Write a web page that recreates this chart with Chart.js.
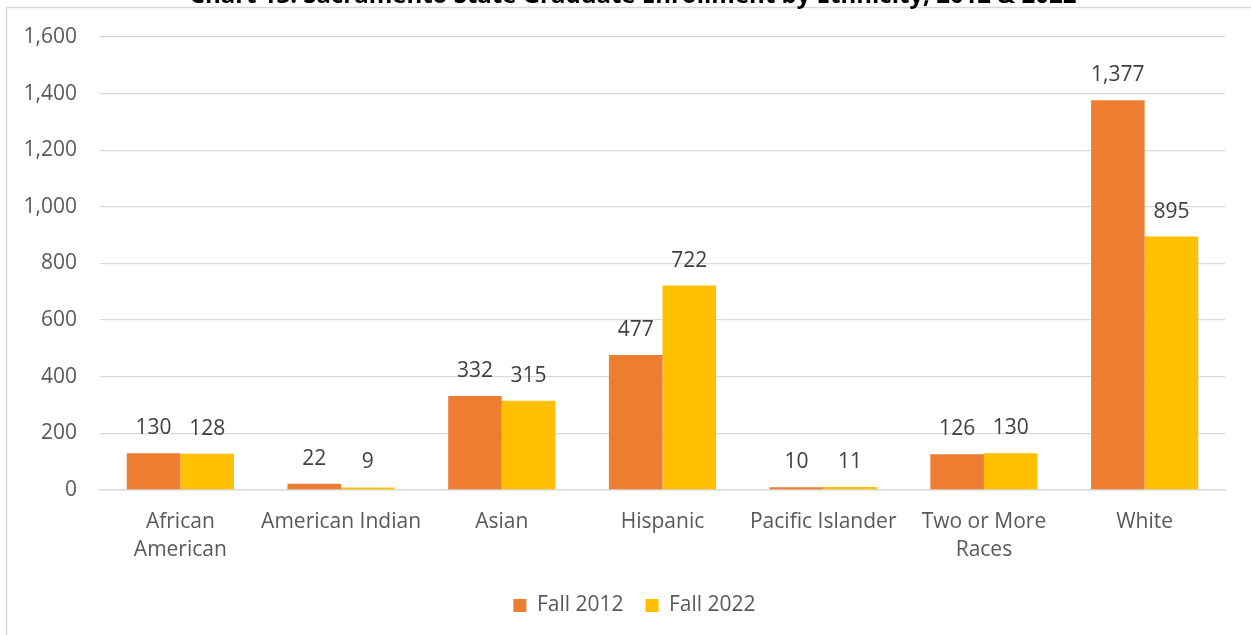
<!DOCTYPE html>
<html>
<head>
<meta charset="utf-8">
<script src="https://cdn.jsdelivr.net/npm/chart.js@4.4.1/dist/chart.umd.min.js"></script>
<style>
  html, body { margin: 0; padding: 0; background: #fff; }
  #wrap { position: absolute; left: 0; top: 0; width: 1251px; height: 635px; }
</style>
</head>
<body>
<div id="wrap"><canvas id="c" width="1251" height="635"></canvas></div>
<script>
const titleText = "Chart 13: Sacramento State Graduate Enrollment by Ethnicity, 2012 & 2022";
const categories = [["African", "American"], "American Indian", "Asian", "Hispanic", "Pacific Islander", ["Two or More", "Races"], "White"];
const seriesNames = ["Fall 2012", "Fall 2022"];
const fall2012 = [130, 22, 332, 477, 10, 126, 1377];
const fall2022 = [128, 9, 315, 722, 11, 130, 895];
const yTicks = [0, 200, 400, 600, 800, 1000, 1200, 1400, 1600];

const FONT = "'Open Sans', 'Noto Sans', sans-serif";
const FS = 21;
const fmt = v => v.toLocaleString('en-US');

const framePlugin = {
  id: 'frame',
  afterLayout(chart) {
    if (chart.legend) { chart.legend.left += 22; chart.legend.right += 22; }
  },
  beforeDraw(chart) {
    const ctx = chart.ctx;
    ctx.save();
    ctx.fillStyle = '#fff';
    ctx.fillRect(0, 0, chart.width, chart.height);
    ctx.strokeStyle = '#D9D9D9';
    ctx.lineWidth = 1.5;
    ctx.beginPath();
    ctx.moveTo(6.5, chart.height + 5);
    ctx.lineTo(6.5, 7.5);
    ctx.lineTo(chart.width + 5, 7.5);
    ctx.stroke();
    ctx.fillStyle = '#000';
    ctx.font = "bold 24px " + FONT;
    ctx.textAlign = 'center';
    ctx.textBaseline = 'alphabetic';
    ctx.fillText(titleText, 633, 3);
    ctx.restore();
  }
};

const labelPlugin = {
  id: 'valueLabels',
  afterDatasetsDraw(chart) {
    const ctx = chart.ctx;
    ctx.save();
    ctx.fillStyle = '#404040';
    ctx.font = FS + "px " + FONT;
    ctx.textAlign = 'center';
    ctx.textBaseline = 'middle';
    chart.data.datasets.forEach((ds, i) => {
      const meta = chart.getDatasetMeta(i);
      meta.data.forEach((bar, j) => {
        ctx.fillText(fmt(ds.data[j]), bar.x, bar.y - 25);
      });
    });
    ctx.restore();
  }
};

new Chart(document.getElementById('c'), {
  type: 'bar',
  data: {
    labels: categories,
    datasets: [
      { label: seriesNames[0], data: fall2012, backgroundColor: '#ED7D31', categoryPercentage: 0.667, barPercentage: 1.0 },
      { label: seriesNames[1], data: fall2022, backgroundColor: '#FFC000', categoryPercentage: 0.667, barPercentage: 1.0 }
    ]
  },
  options: {
    responsive: false,
    animation: false,
    layout: { padding: { top: 37, left: 0, right: 26, bottom: 9 } },
    plugins: {
      legend: {
        position: 'bottom',
        labels: {
          boxWidth: 13, boxHeight: 13, padding: 22,
          color: '#595959',
          font: { family: FONT, size: FS }
        }
      },
      tooltip: { enabled: false },
      title: { display: false }
    },
    scales: {
      x: {
        grid: { display: false, drawTicks: false },
        border: { color: '#D9D9D9', width: 1.5 },
        ticks: {
          color: '#595959', padding: 18, maxRotation: 0, autoSkip: false,
          font: { family: FONT, size: FS, lineHeight: 28 / FS }
        },
        afterFit(scale) { scale.height = 83; }
      },
      y: {
        min: 0, max: 1600,
        afterBuildTicks(scale) { scale.ticks = yTicks.map(v => ({ value: v })); },
        grid: { color: '#D9D9D9', lineWidth: 1.3, drawTicks: false },
        border: { display: false },
        ticks: {
          color: '#595959', padding: 23,
          font: { family: FONT, size: FS },
          callback: v => fmt(v)
        },
        afterFit(scale) { scale.width = 100; }
      }
    }
  },
  plugins: [framePlugin, labelPlugin]
});
</script>
</body>
</html>
